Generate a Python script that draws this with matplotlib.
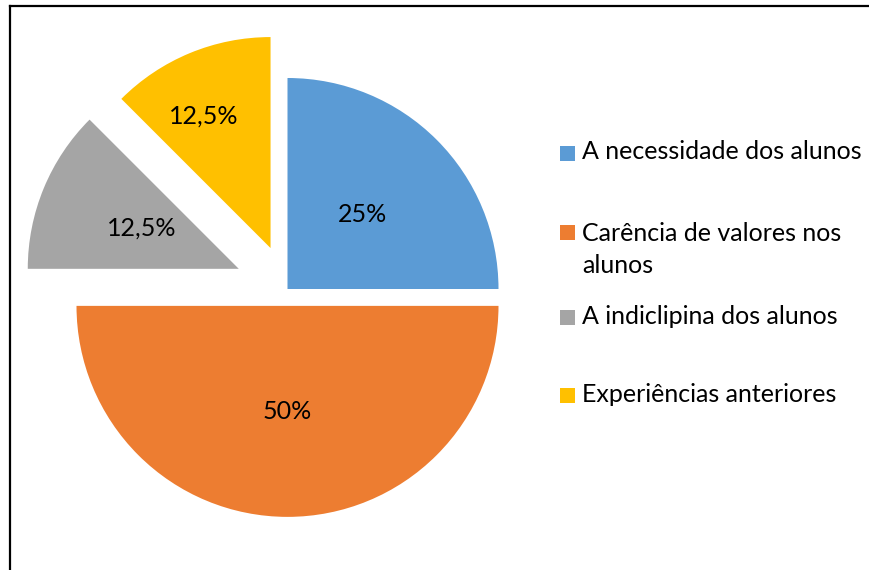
import matplotlib.pyplot as plt
from matplotlib.lines import Line2D
from matplotlib.patches import Rectangle
import numpy as np

plt.rcParams['font.family'] = ['Lato', 'DejaVu Sans']

labels = ['A necessidade dos alunos',
          'Carência de valores nos\nalunos',
          'A indiclipina dos alunos',
          'Experiências anteriores']
values = [25, 50, 12.5, 12.5]
pct_text = ['25%', '50%', '12,5%', '12,5%']
colors = ['#5B9BD5', '#ED7D31', '#A5A5A5', '#FFC000']
explode = [0, 0.08, 0.25, 0.21]
# label placement: fraction of radius and angle tweak (deg)
label_dist = [0.5, 0.5, 0.5, 0.70]
label_rot = [0, 0, 0, 4.4]

W, H = 869, 570
R = 211.0              # pie radius in pixels
cx, cy = 287.5, 289.0  # pie centre in pixels (from top-left)
FS = 18

fig = plt.figure(figsize=(W/100, H/100), dpi=100)
ax = fig.add_axes([0, 0, 1, 1])

wedges, _ = ax.pie(values, colors=colors, explode=explode, startangle=90,
                   counterclock=False, radius=1,
                   wedgeprops=dict(linewidth=0))

# percentage labels
for w, t, d, r in zip(wedges, pct_text, label_dist, label_rot):
    mid = np.deg2rad((w.theta1 + w.theta2) / 2.0 + r)
    x0, y0 = w.center
    ax.text(x0 + d*np.cos(mid), y0 + d*np.sin(mid), t,
            ha='center', va='center', fontsize=FS, color='black')

ax.set_xlim(-cx/R, (W - cx)/R)
ax.set_ylim((cy - H)/R, cy/R)
ax.set_aspect('auto')
ax.axis('off')

# legend, drawn in pixel positions
def px(x, y):
    return x / W, 1 - y / H

legend_y = [153, 232, 317, 395]
line_step = 36.5
for lab, col, y in zip(labels, colors, legend_y):
    x0, y0 = px(560, y + 7.5)
    fig.add_artist(Rectangle((x0, y0), 15/W, 15/H, transform=fig.transFigure,
                             facecolor=col, edgecolor='none'))
    n = lab.count('\n')
    tx, ty = px(582, y - 1 + n*line_step/2)
    fig.text(tx, ty, lab, ha='left', va='center',
             fontsize=FS, color='black', linespacing=1.47)

# border (left and top edges of the chart frame)
fig.add_artist(Line2D([10/W, 10/W], [0, 1 - 6/H], transform=fig.transFigure,
                      color='black', linewidth=1.6))
fig.add_artist(Line2D([10/W, 1], [1 - 6/H, 1 - 6/H], transform=fig.transFigure,
                      color='black', linewidth=1.6))

fig.savefig('out.png', dpi=100, facecolor='white')
